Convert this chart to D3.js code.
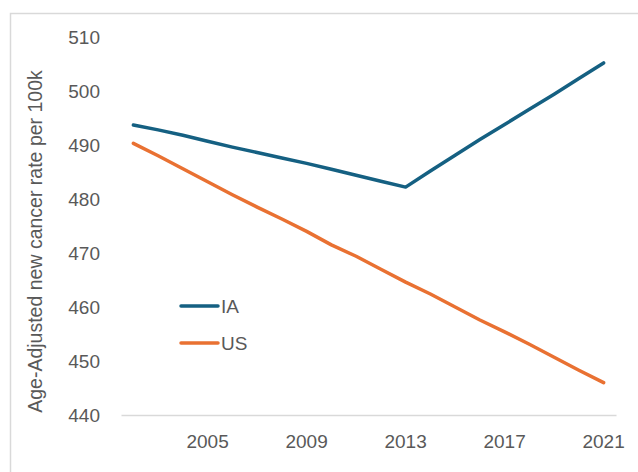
<!DOCTYPE html>
<html>
<head>
<meta charset="utf-8">
<script src="https://cdn.jsdelivr.net/npm/d3@7"></script>
<style>
html,body{margin:0;padding:0;background:#fff;}
svg text{font-family:"Liberation Sans",Arial,sans-serif;fill:#595959;}
</style>
</head>
<body>
<svg id="chart" width="638" height="472"></svg>
<script>
const years = [2002,2003,2004,2005,2006,2007,2008,2009,2010,2011,2012,2013,2014,2015,2016,2017,2018,2019,2020,2021];
const iaValues = [493.7,492.8,491.8,490.7,489.6,488.6,487.6,486.6,485.5,484.4,483.3,482.2,485.2,488.1,491.0,493.8,496.6,499.4,502.3,505.2];
const usValues = [490.3,488.0,485.6,483.2,480.8,478.5,476.3,474.0,471.5,469.4,467.0,464.6,462.4,460.0,457.6,455.4,453.1,450.7,448.3,446.0];
const xTickYears = [2005,2009,2013,2017,2021];
const yTicks = [440,450,460,470,480,490,500,510];
const seriesNames = ["IA","US"];
const seriesColors = ["#156082","#E97132"];

(function(){
const svg = d3.select("#chart");
svg.append("rect").attr("x",10.5).attr("y",13.5).attr("width",700).attr("height",500)
  .attr("fill","#fff").attr("stroke","#d9d9d9").attr("stroke-width",1.5);

const mLeft = 121, mRight = 616, mTop = 37, mBottom = 415;
const x = d3.scaleBand().domain(years).range([mLeft,mRight]);
const y = d3.scaleLinear().domain([440,510]).range([mBottom,mTop]);
const cx = d => x(d) + x.bandwidth()/2;

const yAxis = svg.append("g").attr("transform",`translate(${mLeft},0)`)
  .call(d3.axisLeft(y).tickValues(yTicks).tickSize(0).tickPadding(21));
yAxis.select(".domain").remove();
yAxis.selectAll("text").style("font-size","19px").attr("fill","#595959");

const xAxis = svg.append("g").attr("transform",`translate(0,${mBottom})`)
  .call(d3.axisBottom(x).tickValues(xTickYears).tickSize(0).tickPadding(20));
xAxis.select(".domain").attr("stroke","#d9d9d9").attr("stroke-width",1.5);
xAxis.selectAll("text").style("font-size","19px").attr("fill","#595959");

svg.append("text").attr("transform",`translate(42,${(65+418)/2}) rotate(-90)`)
  .attr("text-anchor","middle").style("font-size","19.5px").text("Age-Adjusted new cancer rate per 100k");

const line = d3.line().x((d,i)=>cx(years[i])).y(d=>y(d));
[iaValues,usValues].forEach((vals,k)=>{
  svg.append("path").datum(vals).attr("d",line).attr("fill","none")
    .attr("stroke",seriesColors[k]).attr("stroke-width",3.5)
    .attr("stroke-linejoin","round").attr("stroke-linecap","round");
});

const legendY = [306,343];
seriesNames.forEach((n,k)=>{
  svg.append("line").attr("x1",181).attr("x2",218).attr("y1",legendY[k]).attr("y2",legendY[k])
    .attr("stroke",seriesColors[k]).attr("stroke-width",3.5).attr("stroke-linecap","round");
  svg.append("text").attr("x",221).attr("y",legendY[k]).attr("dy","0.36em")
    .style("font-size","19px").text(n);
});
})();
</script>
</body>
</html>
